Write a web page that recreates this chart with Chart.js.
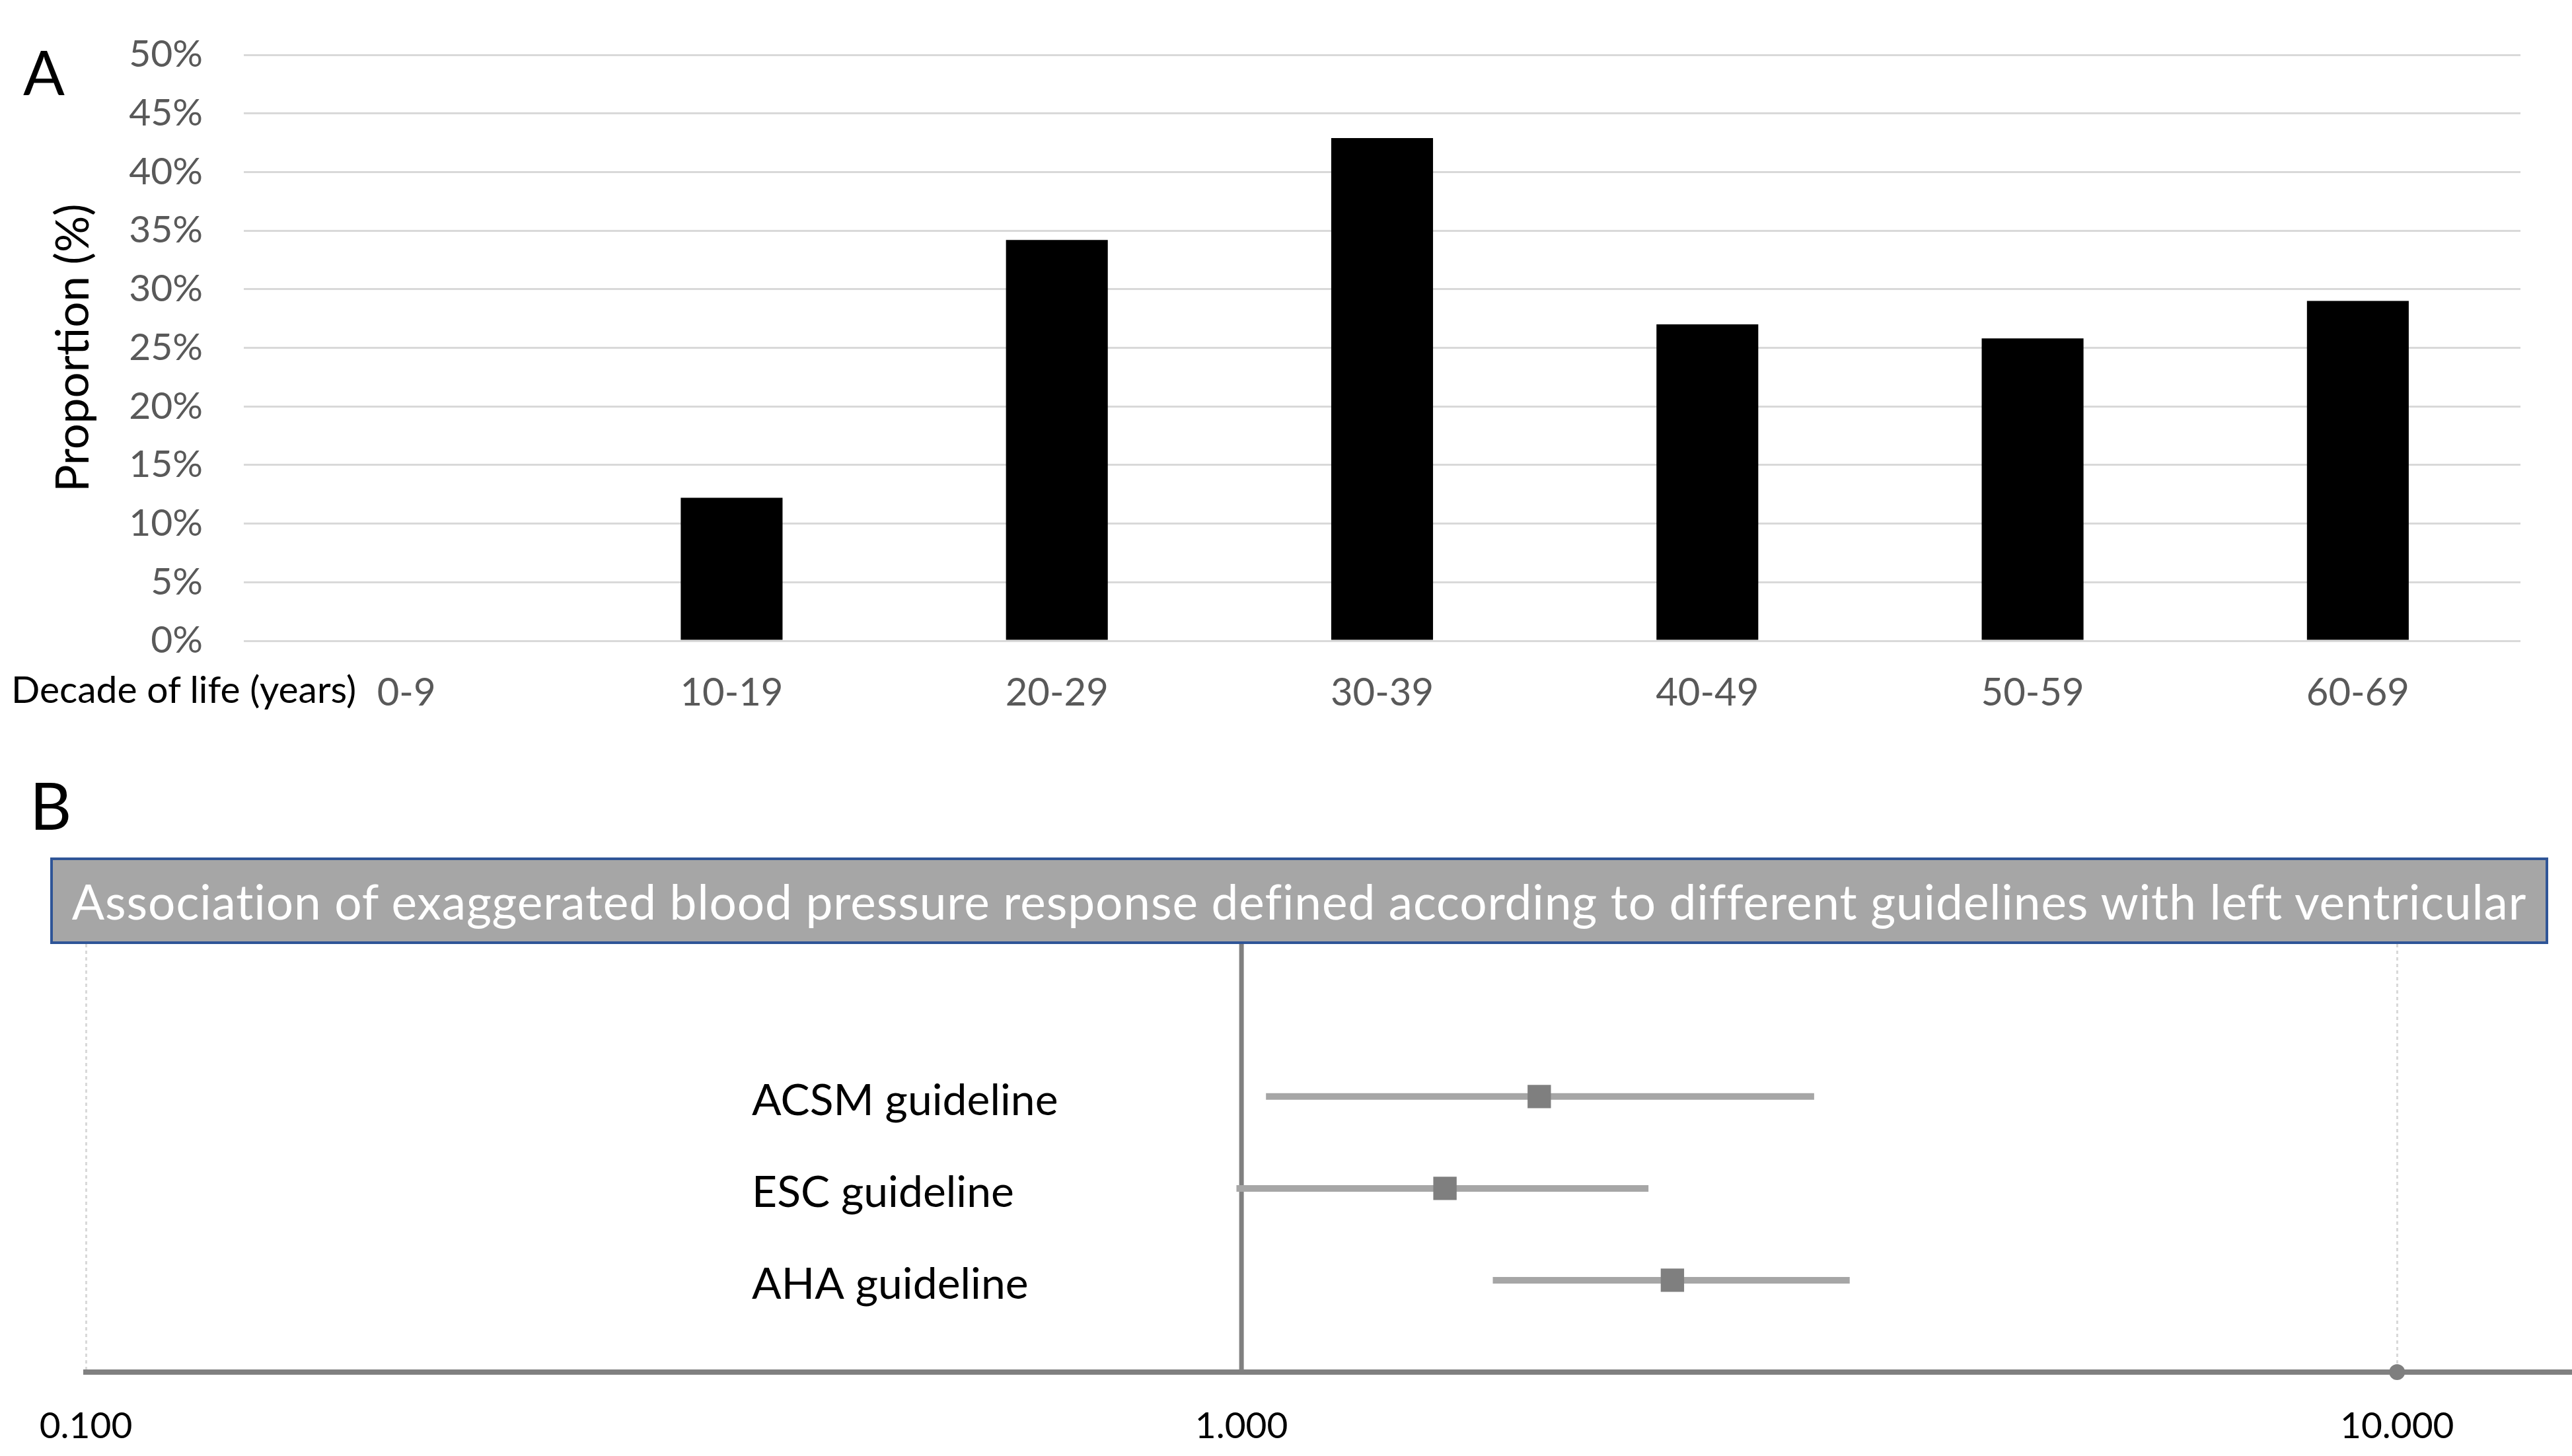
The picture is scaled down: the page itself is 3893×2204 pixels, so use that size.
<!DOCTYPE html>
<html>
<head>
<meta charset="utf-8">
<script src="https://cdn.jsdelivr.net/npm/chart.js@4.4.1/dist/chart.umd.min.js"></script>
<style>
  html, body { margin: 0; padding: 0; background: #fff; }
  body { width: 3893px; height: 2204px; position: relative; overflow: hidden; font-family: Lato, sans-serif; }
  .txt { position: absolute; line-height: 1; color: #000; white-space: nowrap; }
  #barWrap { position: absolute; left: 0; top: 0; width: 3893px; height: 1100px; }
  #forestWrap { position: absolute; left: 0; top: 1429px; width: 3893px; height: 775px; }
  #titleBox {
    position: absolute; left: 76px; top: 1298px; width: 3781px; height: 131px;
    box-sizing: border-box; background: #a6a6a6; border: 4px solid #2f5597;
    color: #fff; font-size: 73px; letter-spacing: 0.9px; display: flex; align-items: center; justify-content: center;
    white-space: nowrap; overflow: hidden;
  }
</style>
</head>
<body>
<div class="txt" style="left:35px; top:62px; font-size:93px;">A</div>
<div class="txt" style="left:45px; top:1169px; font-size:98px;">B</div>
<div class="txt" style="left:17px; top:1014px; font-size:57px;">Decade of life (years)</div>
<div id="barWrap"><canvas id="barChart" width="3893" height="1100"></canvas></div>
<div id="forestWrap"><canvas id="forestChart" width="3893" height="775"></canvas></div>
<div id="titleBox">Association of exaggerated blood pressure response defined according to different guidelines with left ventricular</div>

<script>
// panel A data
const decades = ['0-9', '10-19', '20-29', '30-39', '40-49', '50-59', '60-69'];
const proportion = [0, 12.2, 34.2, 42.9, 27.0, 25.8, 29.0];

// panel B data
const guidelines = ['ACSM guideline', 'ESC guideline', 'AHA guideline'];
const rowPos = [3, 2, 1];
const oddsRatio = [1.81, 1.50, 2.36];
const ciLower = [1.05, 0.99, 1.65];
const ciUpper = [3.13, 2.25, 3.36];
const xTickValues = [0.1, 1, 10];
const refValue = 1;
const xMin = 0.1, xMax = 14.17;
const yMin = 0, yMax = 4.66;
const labelAnchorX = 0.377;

new Chart(document.getElementById('barChart'), {
  type: 'bar',
  data: {
    labels: decades,
    datasets: [{
      data: proportion,
      backgroundColor: '#000',
      barPercentage: 0.313,
      categoryPercentage: 1,
    }],
  },
  options: {
    responsive: false,
    animation: false,
    events: [],
    layout: { padding: { top: 83, right: 78, left: 0, bottom: 0 } },
    plugins: { legend: { display: false }, tooltip: { enabled: false } },
    scales: {
      x: {
        grid: { display: false, drawTicks: false },
        border: { display: false },
        ticks: { color: '#595959', font: { family: 'Lato', size: 58 }, padding: 44, maxRotation: 0, autoSkip: false },
        afterFit(s) { s.height = 130; },
      },
      y: {
        min: 0,
        max: 50,
        ticks: { stepSize: 5, callback: v => v + '%', color: '#595959', font: { family: 'Lato', size: 57 }, padding: 62 },
        grid: { color: '#d9d9d9', lineWidth: 3, drawTicks: false },
        border: { display: false },
        title: { display: true, text: 'Proportion (%)', color: '#000', font: { family: 'Lato', size: 69 }, padding: { top: 70, bottom: 0 } },
        afterFit(s) { s.width = 369; s.paddingTop = 0; s.paddingBottom = 0; },
      },
    },
  },
});

// labels for each guideline row, placed through the scales
const rowLabels = {
  id: 'rowLabels',
  afterDatasetsDraw(chart) {
    const { ctx, scales: { x, y } } = chart;
    ctx.save();
    ctx.font = '66px Lato';
    ctx.fillStyle = '#000';
    ctx.textAlign = 'left';
    ctx.textBaseline = 'alphabetic';
    guidelines.forEach((name, i) => {
      ctx.fillText(name, x.getPixelForValue(labelAnchorX), y.getPixelForValue(rowPos[i]) + 28);
    });
    ctx.restore();
  },
};

new Chart(document.getElementById('forestChart'), {
  type: 'scatter',
  data: {
    datasets: [
      {
        data: guidelines.map((g, i) => ({ x: oddsRatio[i], y: rowPos[i] })),
        pointStyle: 'rect',
        pointRadius: 25,
        backgroundColor: '#7f7f7f',
        borderWidth: 0,
        order: 0,
      },
      {
        data: [{ x: 10, y: yMin }],
        pointRadius: 12,
        backgroundColor: '#7f7f7f',
        borderWidth: 0,
        clip: false,
        order: 1,
      },
      ...guidelines.map((g, i) => ({
        data: [{ x: ciLower[i], y: rowPos[i] }, { x: ciUpper[i], y: rowPos[i] }],
        showLine: true,
        borderColor: '#a6a6a6',
        borderWidth: 10,
        pointRadius: 0,
        order: 2,
      })),
      {
        data: [{ x: refValue, y: yMin }, { x: refValue, y: yMax }],
        showLine: true,
        borderColor: '#808080',
        borderWidth: 7,
        pointRadius: 0,
        order: 3,
      },
    ],
  },
  options: {
    responsive: false,
    animation: false,
    events: [],
    layout: { autoPadding: false, padding: { top: 0, right: 0, left: 130, bottom: 0 } },
    plugins: { legend: { display: false }, tooltip: { enabled: false } },
    scales: {
      x: {
        type: 'logarithmic',
        min: xMin,
        max: xMax,
        afterBuildTicks(s) { s.ticks = xTickValues.map(v => ({ value: v })); },
        ticks: { callback: v => Number(v).toFixed(3), color: '#000', font: { family: 'Lato', size: 55 }, padding: 49, autoSkip: false, maxRotation: 0 },
        grid: { color: '#d9d9d9', lineWidth: 3, drawTicks: false },
        border: { color: '#808080', width: 8, dash: [5, 5] },
        afterFit(s) { s.height = 127; s.paddingTop = 0; s.paddingBottom = 0; },
      },
      y: {
        min: yMin,
        max: yMax,
        display: false,
        afterFit(s) { s.paddingTop = 0; s.paddingBottom = 0; },
      },
    },
  },
  plugins: [rowLabels],
});
</script>
</body>
</html>
